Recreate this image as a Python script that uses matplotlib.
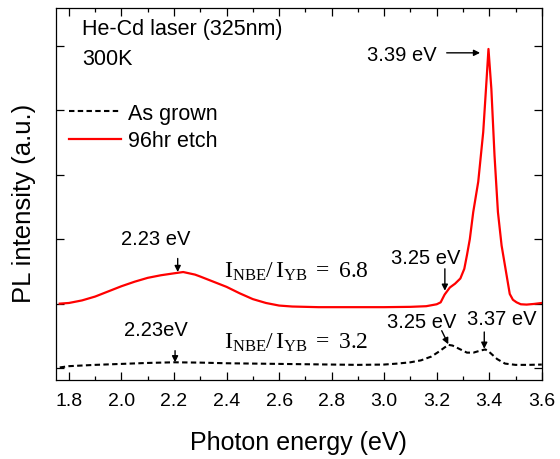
import matplotlib
matplotlib.use('Agg')
import matplotlib.pyplot as plt
from matplotlib.ticker import MultipleLocator, NullFormatter

plt.rcParams['font.family'] = ['Liberation Sans', 'DejaVu Sans']
plt.rcParams['mathtext.fontset'] = 'custom'
plt.rcParams['mathtext.rm'] = 'Liberation Serif'
plt.rcParams['mathtext.it'] = 'Liberation Serif:italic'
plt.rcParams['mathtext.bf'] = 'Liberation Serif:bold'

# PL spectrum after 96 h etch
etch_energy = [1.765, 1.80, 1.85, 1.90, 1.95, 2.00, 2.05, 2.10, 2.15, 2.20, 2.235,
               2.28, 2.30, 2.35, 2.40, 2.45, 2.50, 2.55, 2.60, 2.65, 2.75, 2.90,
               3.00, 3.10, 3.16, 3.20, 3.215, 3.23, 3.25, 3.27, 3.29, 3.305, 3.315,
               3.326, 3.339, 3.358, 3.377, 3.39, 3.397, 3.408, 3.42, 3.433, 3.447,
               3.466, 3.478, 3.49, 3.504, 3.52, 3.542, 3.57, 3.60]
etch_pl = [1.00, 1.01, 1.05, 1.11, 1.19, 1.27, 1.34, 1.40, 1.44, 1.47, 1.49,
           1.45, 1.42, 1.34, 1.26, 1.16, 1.07, 1.01, 0.97, 0.955, 0.945, 0.945,
           0.945, 0.95, 0.96, 0.99, 1.02, 1.14, 1.25, 1.31, 1.39, 1.54, 1.75,
           2.00, 2.42, 2.89, 3.66, 4.49, 4.95, 4.33, 3.30, 2.42, 1.90,
           1.44, 1.15, 1.06, 1.02, 0.99, 0.985, 0.995, 1.01]

# PL spectrum of the as-grown sample
grown_energy = [1.765, 1.80, 1.90, 2.00, 2.10, 2.20, 2.30, 2.40, 2.50, 2.60, 2.70,
                2.80, 2.90, 3.00, 3.05, 3.10, 3.14, 3.18, 3.21, 3.23, 3.245, 3.26,
                3.29, 3.315, 3.34, 3.365, 3.385, 3.40, 3.43, 3.46, 3.50, 3.55, 3.60]
grown_pl = [0.01, 0.03, 0.05, 0.065, 0.08, 0.09, 0.085, 0.075, 0.07, 0.065, 0.06,
            0.055, 0.05, 0.055, 0.07, 0.09, 0.12, 0.18, 0.26, 0.32, 0.36, 0.35,
            0.29, 0.24, 0.24, 0.27, 0.29, 0.25, 0.14, 0.07, 0.05, 0.05, 0.055]

x_ticks = [1.8, 2.0, 2.2, 2.4, 2.6, 2.8, 3.0, 3.2, 3.4, 3.6]

fig = plt.figure(figsize=(5.6, 4.6), dpi=100)
ax = fig.add_axes([55.8 / 560, 1 - 380.7 / 460, 486 / 560, 372 / 460])

ax.plot(grown_energy, grown_pl, color='black', lw=1.5, ls=(0, (2.6, 1.6)),
        label='As grown')
ax.plot(etch_energy, etch_pl, color='#ff0000', lw=1.6, label='96hr etch')

ax.set_xlim(1.75, 3.6)
ax.set_ylim(-0.18, 5.59)
ax.set_xticks(x_ticks)
ax.set_xticklabels([f'{v:.1f}' for v in x_ticks])
ax.xaxis.set_minor_locator(MultipleLocator(0.1))
ax.yaxis.set_major_locator(MultipleLocator(1))
ax.yaxis.set_major_formatter(NullFormatter())
ax.tick_params(which='both', direction='in', top=True, right=True, width=0.9)
ax.tick_params(which='major', length=5.5, labelsize=14, pad=9)
ax.tick_params(which='minor', length=3)
for s in ax.spines.values():
    s.set_linewidth(0.9)

fig.text(298.8 / 560, 1 - 450 / 460, 'Photon energy (eV)', fontsize=18,
         ha='center', va='baseline')
fig.text(24 / 560, 1 - 203 / 460, 'PL intensity (a.u.)', fontsize=18.5,
         rotation=90, ha='center', va='center')

fig.text(82 / 560, 1 - 35 / 460, 'He-Cd laser (325nm)', fontsize=15.5,
         va='baseline')
fig.text(82 / 560, 1 - 65 / 460, '300K', fontsize=15.5, va='baseline')

ax.legend(loc='upper left', bbox_to_anchor=(0.01, 0.768), frameon=False,
          fontsize=15.5, handlelength=2.4, handletextpad=0.35,
          labelspacing=0.3, borderaxespad=0)

arrow = dict(arrowstyle='-|>', color='black', lw=1.0, mutation_scale=9,
             shrinkA=0, shrinkB=0)
fs = 14.5

# Peak labels for the etched sample
ax.text(3.20, 4.775, '3.39 eV', fontsize=fs, ha='right', va='baseline')
ax.annotate('', xy=(3.365, 4.89), xytext=(3.238, 4.89), arrowprops=arrow)
ax.text(2.13, 1.93, '2.23 eV', fontsize=fs, ha='center', va='baseline')
ax.annotate('', xy=(2.214, 1.49), xytext=(2.214, 1.70), arrowprops=arrow)
ax.text(3.159, 1.63, '3.25 eV', fontsize=fs, ha='center', va='baseline')
ax.annotate('', xy=(3.231, 1.20), xytext=(3.231, 1.54), arrowprops=arrow)
ax.text(2.39, 1.424, r'$\mathrm{I_{NBE}/\,I_{YB}}\ =\ 6.8$', fontsize=17,
        ha='left', va='baseline')

# Peak labels for the as-grown sample
ax.text(2.13, 0.517, '2.23eV', fontsize=fs, ha='center', va='baseline')
ax.annotate('', xy=(2.204, 0.09), xytext=(2.204, 0.27), arrowprops=arrow)
ax.text(3.142, 0.636, '3.25 eV', fontsize=fs, ha='center', va='baseline')
ax.annotate('', xy=(3.244, 0.37), xytext=(3.219, 0.58), arrowprops=arrow)
ax.text(3.447, 0.687, '3.37 eV', fontsize=fs, ha='center', va='baseline')
ax.annotate('', xy=(3.381, 0.30), xytext=(3.381, 0.56), arrowprops=arrow)
ax.text(2.39, 0.323, r'$\mathrm{I_{NBE}/\,I_{YB}}\ =\ 3.2$', fontsize=17,
        ha='left', va='baseline')

fig.savefig('out.png', dpi=100)
